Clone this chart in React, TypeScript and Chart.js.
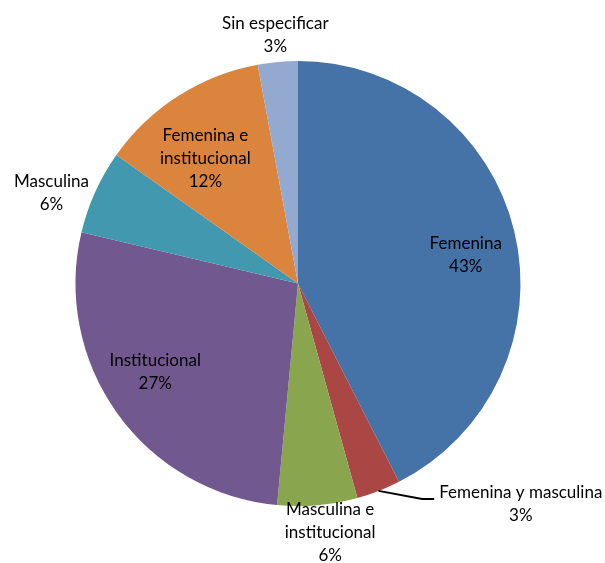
import React, { useEffect, useRef } from "react";
import { Chart, registerables } from "chart.js";

Chart.register(...registerables);

const categories = [
  "Femenina",
  "Femenina y masculina",
  "Masculina e institucional",
  "Institucional",
  "Masculina",
  "Femenina e institucional",
  "Sin especificar",
];
const values = [42.5, 3.2, 5.8, 27.2, 6.1, 12.3, 2.9];
const colors = ["#4572A7", "#AA4643", "#89A54E", "#71588F", "#4198AF", "#DB843D", "#93A9CF"];

// label placement: radius factor (of outer radius) and angle offset in degrees from slice middle
const labelRadius = [0.765, 1.41, 1.13, 0.756, 1.18, 0.7, 1.12];
const labelAngleOffset = [3.7, -24, -2.3, 3.7, -4.2, -3.9, 0];
const leaderLine = [false, true, false, false, false, false, false];

const FONT = "17px Lato, 'Open Sans', sans-serif";
const LINE_H = 23;

const labelPlugin = {
  id: "pieLabels",
  afterDraw(chart: any) {
    const ctx = chart.ctx;
    const meta = chart.getDatasetMeta(0);
    const total = values.reduce((a, b) => a + b, 0);
    ctx.save();
    ctx.font = FONT;
    ctx.fillStyle = "#000";
    ctx.textAlign = "center";
    ctx.textBaseline = "middle";
    meta.data.forEach((arc: any, i: number) => {
      const p = arc.getProps(["x", "y", "startAngle", "endAngle", "outerRadius"], true);
      const mid = (p.startAngle + p.endAngle) / 2;
      const a = mid + (labelAngleOffset[i] * Math.PI) / 180;
      const cx = p.x + Math.cos(a) * p.outerRadius * labelRadius[i];
      const cy = p.y + Math.sin(a) * p.outerRadius * labelRadius[i];
      const pct = Math.round((values[i] / total) * 100) + "%";
      const lines = categories[i].replace(" e ", " e\n").split("\n").concat([pct]);
      const top = cy - ((lines.length - 1) * LINE_H) / 2;
      lines.forEach((ln, k) => ctx.fillText(ln, cx, top + k * LINE_H));
      if (leaderLine[i]) {
        const w = ctx.measureText(lines[0]).width;
        const sx = p.x + Math.cos(mid) * p.outerRadius;
        const sy = p.y + Math.sin(mid) * p.outerRadius;
        const ex = cx - w / 2 - 5;
        const ey = top + 6;
        ctx.beginPath();
        ctx.strokeStyle = "#000";
        ctx.lineWidth = 2;
        ctx.moveTo(sx, sy);
        ctx.lineTo(ex - 12, ey);
        ctx.lineTo(ex, ey);
        ctx.stroke();
      }
    });
    ctx.restore();
  },
};

export default function App() {
  const ref = useRef<HTMLCanvasElement>(null);
  useEffect(() => {
    document.body.style.margin = "0";
    const chart = new Chart(ref.current!, {
      type: "pie",
      data: {
        labels: categories,
        datasets: [
          {
            data: values,
            backgroundColor: colors,
            borderWidth: 0,
          },
        ],
      },
      options: {
        responsive: false,
        animation: false,
        layout: { padding: { left: 75, right: 84, top: 61, bottom: 57 } },
        plugins: {
          legend: { display: false },
          tooltip: { enabled: false },
        },
      },
      plugins: [labelPlugin],
    });
    return () => chart.destroy();
  }, []);
  return (
    <div style={{ width: 605, height: 563, background: "#fff" }}>
      <canvas ref={ref} width={605} height={563} style={{ display: "block" }} />
    </div>
  );
}
